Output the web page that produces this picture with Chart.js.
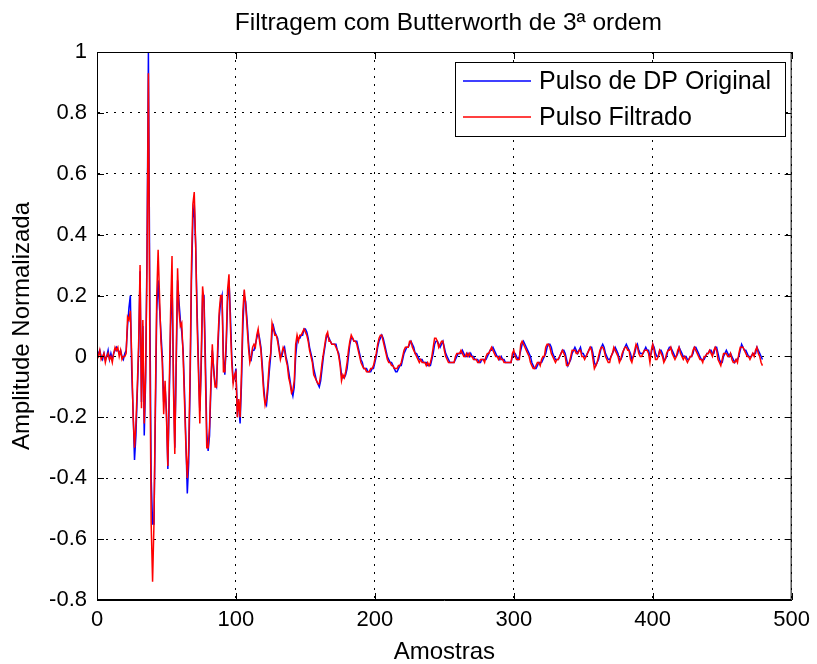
<!DOCTYPE html>
<html>
<head>
<meta charset="utf-8">
<title>Filtragem com Butterworth</title>
<script src="https://cdn.jsdelivr.net/npm/chart.js@4.4.0/dist/chart.umd.min.js"></script>
<style>
    html, body { margin: 0; padding: 0; background: #fff; }
    #grafico { display: block; }
</style>
</head>
<body>
<canvas id="grafico" width="817" height="664"></canvas>
<script>
'use strict';

// Pulso de DP original (azul), uma amostra por posicao
var pulsoOriginal = [
    0.0, 0.01, 0.02, 0.0, -0.01, 0.01, -0.01, 0.0, 0.02, -0.01, 0.01, -0.01, 0.01, 0.02, 0.03, 0.02, 0.01, 0.02, 0.0, -0.01,
    0.01, 0.02, 0.1, 0.16, 0.2, -0.05, -0.18, -0.34, -0.26, -0.12,
    0.02, 0.28, -0.15, 0.1, -0.26, -0.08, 0.35, 1.0, 0.2, -0.4,
    -0.55, -0.55, -0.2, 0.15, 0.25, 0.16, 0.08, 0.0, -0.15, -0.1,
    -0.18, -0.37, -0.14, 0.1, 0.25, -0.05, -0.3, -0.04, 0.25, 0.18,
    0.12, 0.08, 0.02, -0.12, -0.28, -0.45, -0.35, -0.1, 0.25, 0.45,
    0.5, 0.37, 0.16, -0.02, -0.18, -0.04, 0.2, 0.2, 0.0, -0.25,
    -0.31, -0.26, -0.1, 0.02, -0.04, -0.09, -0.1, 0.02, 0.13, 0.18,
    0.2, 0.0, -0.06, 0.03, 0.18, 0.25, 0.14, 0.0, -0.08, -0.07,
    -0.04, -0.18, -0.16, -0.22, -0.09, 0.1, 0.2, 0.18, 0.12, 0.05,
    0.0, -0.01, 0.02, 0.02, 0.04, 0.06, 0.08, 0.06, 0.03, -0.03,
    -0.1, -0.15, -0.16, -0.11, -0.05, 0.0, 0.08, 0.1, 0.08, 0.07,
    0.06, 0.03, 0.0, 0.0, 0.02, 0.03, 0.0, -0.02, -0.05, -0.08,
    -0.11, -0.13, -0.1, 0.0, 0.05, 0.06, 0.06, 0.07, 0.07, 0.09,
    0.09, 0.08, 0.06, 0.03, 0.01, -0.01, -0.04, -0.06, -0.08, -0.09,
    -0.1, -0.08, -0.04, 0.0, 0.03, 0.06, 0.07, 0.06, 0.05, 0.04,
    0.04, 0.04, 0.04, 0.02, 0.01, -0.02, -0.06, -0.07, -0.07, -0.06,
    -0.04, 0.0, 0.04, 0.06, 0.06, 0.05, 0.05, 0.05, 0.03, 0.01,
    -0.01, -0.02, -0.04, -0.04, -0.04, -0.05, -0.05, -0.05, -0.04, -0.04,
    -0.02, 0.0, 0.03, 0.05, 0.06, 0.07, 0.06, 0.04, 0.02, 0.0,
    -0.01, -0.02, -0.02, -0.03, -0.04, -0.05, -0.05, -0.04, -0.03, -0.03,
    -0.01, 0.01, 0.02, 0.03, 0.03, 0.04, 0.05, 0.04, 0.03, 0.01,
    0.01, 0.0, -0.01, -0.01, -0.01, -0.02, -0.02, -0.02, -0.03, -0.03,
    -0.03, -0.01, 0.01, 0.04, 0.05, 0.05, 0.04, 0.03, 0.04, 0.05,
    0.03, 0.01, 0.0, -0.01, -0.02, -0.02, -0.02, -0.02, -0.01, 0.0,
    0.01, 0.01, 0.01, 0.02, 0.01, 0.0, 0.0, 0.01, 0.0, 0.01,
    0.0, 0.0, -0.01, -0.01, -0.01, -0.02, -0.02, -0.01, -0.01, -0.01,
    -0.01, 0.0, 0.01, 0.02, 0.02, 0.03, 0.02, 0.01, 0.0, 0.0,
    -0.01, 0.0, -0.01, -0.01, -0.02, -0.02, -0.02, -0.02, -0.02, 0.0,
    0.01, 0.01, 0.0, -0.01, 0.0, 0.02, 0.04, 0.05, 0.04, 0.03,
    0.02, 0.01, 0.0, -0.02, -0.03, -0.04, -0.04, -0.03, -0.02, -0.02,
    -0.02, -0.01, 0.0, 0.01, 0.03, 0.04, 0.04, 0.03, 0.01, 0.0,
    -0.01, -0.01, -0.01, 0.0, 0.01, 0.02, 0.02, 0.01, -0.01, -0.03,
    -0.02, -0.01, 0.01, 0.02, 0.03, 0.02, 0.01, 0.02, 0.03, 0.01,
    0.01, 0.0, 0.0, 0.01, 0.02, 0.03, 0.03, 0.01, -0.02, -0.03,
    -0.02, -0.01, 0.01, 0.03, 0.04, 0.03, 0.01, 0.0, -0.01, -0.01,
    0.0, 0.01, 0.02, 0.03, 0.02, 0.01, -0.01, -0.01, 0.0, 0.02,
    0.03, 0.04, 0.03, 0.02, 0.01, -0.01, 0.0, 0.01, 0.03, 0.04,
    0.02, 0.01, 0.01, 0.01, 0.02, 0.03, 0.02, 0.02, 0.0, 0.01,
    0.04, 0.03, 0.01, 0.0, 0.0, 0.02, 0.02, 0.01, -0.01, -0.01,
    0.0, 0.02, 0.03, 0.03, 0.02, 0.01, 0.0, 0.0, 0.01, 0.03,
    0.02, 0.01, 0.0, 0.0, 0.0, -0.01, -0.01, 0.0, 0.0, 0.01,
    0.03, 0.03, 0.02, 0.01, 0.0, -0.01, -0.01, -0.01, 0.0, 0.01,
    0.01, 0.02, 0.02, 0.01, 0.01, 0.03, 0.03, 0.01, -0.01, -0.02,
    -0.02, 0.0, 0.01, 0.02, 0.01, 0.0, 0.01, 0.0, -0.01, -0.02,
    -0.01, -0.01, 0.0, 0.02, 0.04, 0.03, 0.02, 0.02, 0.01, 0.0,
    0.0, 0.0, 0.01, 0.01, 0.01, 0.03, 0.02, 0.01, 0.0, -0.01
];

// Pulso filtrado (vermelho)
var pulsoFiltrado = [
    0.01, 0.0, 0.02, -0.01, 0.0, 0.01, -0.02, 0.0, 0.01, -0.01, 0.0, -0.02, 0.01, 0.03, 0.02, 0.03, 0.0, 0.02, -0.01, 0.0,
    0.0, 0.01, 0.13, 0.12, 0.15, 0.0, -0.2, -0.3, -0.22, -0.1,
    0.05, 0.3, -0.17, 0.12, -0.22, -0.05, 0.3, 0.93, 0.05, -0.55,
    -0.74, -0.55, -0.15, 0.2, 0.35, 0.2, 0.05, -0.02, -0.19, -0.08,
    -0.2, -0.36, -0.1, 0.15, 0.33, -0.1, -0.32, 0.0, 0.29, 0.15,
    0.1, 0.11, 0.0, -0.15, -0.3, -0.4, -0.3, -0.05, 0.3, 0.5,
    0.54, 0.37, 0.12, -0.05, -0.22, 0.0, 0.23, 0.18, -0.05, -0.3,
    -0.3, -0.23, -0.08, 0.04, -0.05, -0.1, -0.1, 0.05, 0.15, 0.2,
    0.2, -0.05, -0.05, 0.05, 0.22, 0.27, 0.1, -0.02, -0.09, -0.06,
    -0.05, -0.2, -0.14, -0.2, -0.05, 0.15, 0.22, 0.17, 0.1, 0.03,
    -0.02, 0.0, 0.03, 0.04, 0.03, 0.07, 0.09, 0.05, 0.02, -0.05,
    -0.12, -0.16, -0.14, -0.09, -0.02, 0.01, 0.11, 0.09, 0.07, 0.07,
    0.05, 0.02, -0.01, 0.01, 0.03, 0.02, -0.01, -0.03, -0.07, -0.09,
    -0.12, -0.11, -0.08, 0.04, 0.07, 0.05, 0.07, 0.07, 0.08, 0.09,
    0.08, 0.07, 0.05, 0.02, 0.0, -0.02, -0.06, -0.07, -0.08, -0.09,
    -0.09, -0.06, -0.02, 0.01, 0.04, 0.07, 0.08, 0.05, 0.05, 0.04,
    0.04, 0.04, 0.03, 0.02, 0.0, -0.03, -0.08, -0.06, -0.07, -0.05,
    -0.02, 0.02, 0.05, 0.07, 0.06, 0.05, 0.05, 0.04, 0.02, 0.0,
    -0.02, -0.03, -0.04, -0.04, -0.05, -0.05, -0.05, -0.04, -0.04, -0.03,
    -0.01, 0.01, 0.04, 0.06, 0.07, 0.07, 0.05, 0.03, 0.01, -0.01,
    -0.02, -0.02, -0.03, -0.03, -0.04, -0.04, -0.04, -0.03, -0.03, -0.02,
    0.0, 0.02, 0.03, 0.03, 0.03, 0.05, 0.05, 0.03, 0.02, 0.01,
    0.0, -0.01, -0.02, -0.01, -0.02, -0.02, -0.02, -0.03, -0.02, -0.03,
    -0.02, 0.0, 0.03, 0.06, 0.06, 0.05, 0.03, 0.04, 0.05, 0.05,
    0.02, 0.0, -0.01, -0.02, -0.02, -0.02, -0.02, -0.02, 0.0, 0.01,
    0.01, 0.01, 0.02, 0.01, 0.0, 0.0, 0.01, 0.0, 0.01, 0.0,
    0.0, -0.01, -0.01, -0.01, -0.02, -0.02, -0.01, -0.01, -0.01, -0.02,
    0.0, 0.01, 0.01, 0.02, 0.03, 0.02, 0.01, 0.0, 0.0, -0.01,
    0.0, -0.01, -0.01, -0.02, -0.02, -0.02, -0.02, -0.02, -0.02, 0.01,
    0.02, 0.0, -0.01, -0.01, -0.01, 0.04, 0.05, 0.04, 0.03, 0.02,
    0.01, 0.0, -0.02, -0.03, -0.04, -0.04, -0.03, -0.02, -0.02, -0.03,
    -0.01, 0.0, 0.0, 0.03, 0.04, 0.04, 0.03, 0.01, 0.0, -0.01,
    -0.02, -0.01, -0.01, 0.0, 0.01, 0.02, 0.01, 0.0, -0.03, -0.03,
    -0.02, 0.0, 0.02, 0.02, 0.02, 0.01, 0.01, 0.02, 0.02, 0.0,
    0.0, -0.01, 0.0, 0.01, 0.02, 0.03, 0.02, -0.01, -0.04, -0.03,
    -0.02, 0.0, 0.02, 0.03, 0.03, 0.02, 0.0, -0.01, -0.02, -0.02,
    0.0, 0.01, 0.03, 0.02, 0.01, 0.0, -0.02, -0.01, 0.01, 0.02,
    0.03, 0.03, 0.02, 0.02, -0.01, -0.02, 0.0, 0.02, 0.04, 0.03,
    0.01, 0.0, 0.0, 0.01, 0.02, 0.02, 0.02, 0.01, -0.02, 0.02,
    0.04, 0.02, -0.01, -0.01, 0.0, 0.02, 0.01, 0.0, -0.02, -0.01,
    0.01, 0.02, 0.02, 0.03, 0.01, 0.0, -0.01, 0.0, 0.02, 0.03,
    0.01, 0.0, -0.01, 0.0, -0.01, -0.02, -0.01, 0.0, 0.0, 0.02,
    0.03, 0.02, 0.01, 0.0, -0.01, -0.01, -0.02, 0.0, 0.0, 0.01,
    0.01, 0.02, 0.01, 0.0, 0.02, 0.03, 0.02, -0.01, -0.02, -0.03,
    -0.01, 0.01, 0.01, 0.01, 0.0, 0.0, 0.01, -0.01, -0.02, -0.02,
    -0.01, -0.02, 0.01, 0.03, 0.03, 0.03, 0.02, 0.01, 0.0, 0.0,
    -0.01, 0.0, 0.01, 0.0, 0.02, 0.03, 0.01, 0.0, -0.02, -0.03
];

var tituloGrafico = 'Filtragem com Butterworth de 3ª ordem';
var rotuloX = 'Amostras';
var rotuloY = 'Amplitude Normalizada';
var nomesSeries = ['Pulso de DP Original', 'Pulso Filtrado'];

var fonte = "'Liberation Sans', Arial, Helvetica, sans-serif";

var pontos = function (valores) {
    return valores.map(function (v, i) {
        return { x: i, y: v };
    });
};

// titulo, caixa do grafico, marcas internas e legenda no estilo do MATLAB
var estiloMatlab = {
    id: 'estiloMatlab',
    afterDraw: function (chart) {
        var ctx = chart.ctx;
        var area = chart.chartArea;
        var sx = chart.scales.x;
        var sy = chart.scales.y;

        ctx.save();
        ctx.fillStyle = '#000';
        ctx.font = '24.5px ' + fonte;
        ctx.textAlign = 'center';
        ctx.textBaseline = 'middle';
        ctx.fillText(tituloGrafico, (area.left + area.right) / 2 + 4, 23);

        ctx.strokeStyle = '#000';
        ctx.lineWidth = 1;
        ctx.strokeRect(area.left + 0.5, area.top + 0.5, area.right - area.left - 1, area.bottom - area.top - 1);

        ctx.beginPath();
        sx.ticks.forEach(function (t) {
            var px = Math.round(sx.getPixelForValue(t.value)) + 0.5;
            ctx.moveTo(px, area.bottom);
            ctx.lineTo(px, area.bottom - 7);
            ctx.moveTo(px, area.top);
            ctx.lineTo(px, area.top + 7);
        });
        sy.ticks.forEach(function (t) {
            var py = Math.round(sy.getPixelForValue(t.value)) + 0.5;
            ctx.moveTo(area.left, py);
            ctx.lineTo(area.left + 7, py);
            ctx.moveTo(area.right, py);
            ctx.lineTo(area.right - 7, py);
        });
        ctx.stroke();

        // legenda
        var caixa = { left: 455, top: 62, width: 330, height: 74 };
        ctx.fillStyle = '#fff';
        ctx.fillRect(caixa.left, caixa.top, caixa.width, caixa.height);
        ctx.strokeRect(caixa.left + 0.5, caixa.top + 0.5, caixa.width, caixa.height);
        ctx.font = '25px ' + fonte;
        ctx.textAlign = 'left';
        nomesSeries.forEach(function (nome, i) {
            var ds = chart.data.datasets[i];
            var y = caixa.top + 19 + i * 36;
            ctx.strokeStyle = ds.borderColor;
            ctx.lineWidth = 1.5;
            ctx.beginPath();
            ctx.moveTo(caixa.left + 8, y);
            ctx.lineTo(caixa.left + 76, y);
            ctx.stroke();
            ctx.fillStyle = '#000';
            ctx.fillText(nome, caixa.left + 84, y + 1);
        });
        ctx.restore();
    }
};

var ctx = document.getElementById('grafico').getContext('2d');

new Chart(ctx, {
    type: 'line',
    data: {
        datasets: [
            {
                label: nomesSeries[0],
                data: pontos(pulsoOriginal),
                borderColor: '#0000ff',
                borderWidth: 1.5,
                order: 2
            },
            {
                label: nomesSeries[1],
                data: pontos(pulsoFiltrado),
                borderColor: '#ff0000',
                borderWidth: 1.5,
                order: 1
            }
        ]
    },
    options: {
        responsive: false,
        animation: false,
        devicePixelRatio: 1,
        layout: { padding: { top: 52, right: 24, bottom: 0, left: 0 } },
        elements: { point: { radius: 0 }, line: { tension: 0 } },
        plugins: {
            legend: { display: false },
            title: { display: false },
            tooltip: { enabled: false }
        },
        scales: {
            x: {
                type: 'linear',
                min: 0,
                max: 500,
                ticks: {
                    stepSize: 100,
                    padding: 7,
                    color: '#000',
                    maxRotation: 0,
                    font: { family: fonte, size: 22 }
                },
                grid: { color: '#000', lineWidth: 1, drawTicks: false },
                border: { display: true, color: '#000', dash: [2, 6] },
                title: {
                    display: true,
                    text: rotuloX,
                    color: '#000',
                    font: { family: fonte, size: 24, lineHeight: 1 },
                    padding: { top: 0, bottom: 0 }
                },
                afterFit: function (scale) { scale.height = 64; }
            },
            y: {
                min: -0.8,
                max: 1,
                ticks: {
                    stepSize: 0.2,
                    padding: 10,
                    color: '#000',
                    font: { family: fonte, size: 22 },
                    callback: function (v) { return String(Math.round(v * 10) / 10); }
                },
                grid: { color: '#000', lineWidth: 1, drawTicks: false },
                border: { display: true, color: '#000', dash: [2, 6] },
                title: {
                    display: true,
                    text: rotuloY,
                    color: '#000',
                    font: { family: fonte, size: 24, lineHeight: 1 },
                    padding: { top: 10, bottom: 0 }
                },
                afterFit: function (scale) { scale.width = 97; }
            }
        }
    },
    plugins: [estiloMatlab]
});
</script>
</body>
</html>
